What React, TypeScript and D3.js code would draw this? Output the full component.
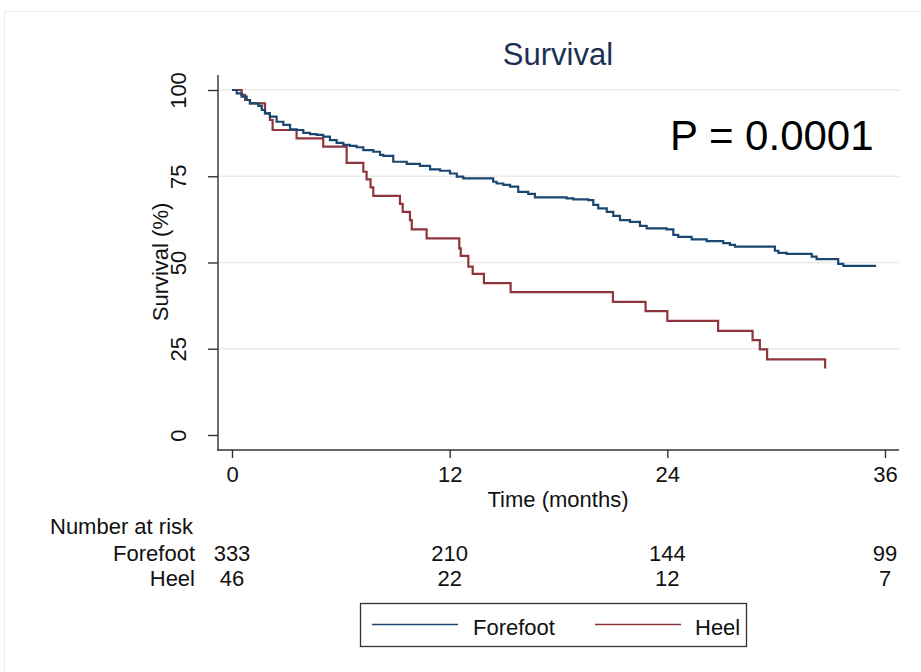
import React, { useEffect, useRef } from 'react'
import * as d3 from 'd3'

// Kaplan-Meier steps (months, survival %)
const forefootTime = [0, 0.26, 0.53, 0.81, 0.99, 1.45, 1.64, 1.82, 2.09, 2.46, 2.83, 3.2, 3.56, 3.93, 4.3, 4.67, 5.03, 5.4, 5.77, 6.14, 6.5, 6.87, 7.24, 7.79, 8.16, 8.34, 8.89, 9.63, 10.36, 10.92, 11.47, 12.02, 12.39, 12.75, 14.4, 14.59, 14.96, 15.33, 15.78, 16.33, 16.7, 18.45, 18.82, 19.64, 19.92, 20.19, 20.66, 21.02, 21.39, 21.94, 22.49, 22.86, 23.96, 24.33, 24.6, 25.34, 26.17, 27.08, 27.45, 27.73, 29.93, 30.12, 30.58, 31.96, 32.23, 33.42, 33.7, 35.45]
const forefootSurv = [100, 99.0, 98.1, 97.1, 96.1, 95.4, 94.2, 93.2, 92.3, 90.8, 89.9, 88.6, 88.4, 87.6, 87.2, 87.0, 86.5, 85.5, 84.7, 84.1, 83.8, 83.4, 82.6, 82.1, 81.2, 80.9, 79.2, 78.6, 78.0, 77.0, 76.6, 75.8, 74.9, 74.4, 73.4, 72.9, 72.5, 72.0, 70.5, 69.9, 68.9, 68.6, 68.3, 68.1, 66.7, 65.7, 64.7, 63.5, 62.3, 61.8, 60.6, 59.9, 59.6, 58.0, 57.4, 56.7, 56.2, 55.6, 55.1, 54.6, 53.4, 52.8, 52.5, 51.7, 51.0, 49.6, 49.0, 48.7]

const heelTime = [0, 0.53, 0.72, 0.99, 1.82, 2.09, 2.24, 3.56, 5.03, 6.32, 7.24, 7.42, 7.64, 7.79, 9.26, 9.41, 9.81, 9.91, 10.73, 12.53, 12.61, 13.03, 13.27, 13.89, 15.36, 21.0, 22.8, 24.0, 26.8, 28.7, 29.1, 29.5, 32.7]
const heelSurv = [100, 98.6, 97.1, 96.1, 93.2, 91.3, 88.4, 86.0, 83.6, 78.9, 76.3, 74.1, 71.8, 69.3, 67.0, 64.7, 62.3, 59.6, 57.0, 54.1, 51.9, 48.8, 46.7, 44.0, 41.4, 38.6, 35.9, 33.1, 30.2, 27.5, 24.8, 21.9, 19.3]

const xTicks = [0, 12, 24, 36]
const yTicks = [0, 25, 50, 75, 100]
const groups = ['Forefoot', 'Heel']
const forefootAtRisk = [333, 210, 144, 99]
const heelAtRisk = [46, 22, 12, 7]

const BLUE = '#1a476f'
const RED = '#90353b'
const FONT = '"Liberation Sans", Arial, Helvetica, sans-serif'

const App = () => {
    const Chart = useRef<SVGSVGElement>(null)
    const width = 921
    const height = 672

    useEffect(() => {
        const svg = d3.select(Chart.current)
        svg.selectAll('*').remove()
        svg.style('font-family', FONT)

        // faint graph region border
        svg.append('rect')
            .attr('x', 4.5).attr('y', 11.5)
            .attr('width', 940).attr('height', 700)
            .attr('fill', 'none').attr('stroke', '#ececec')

        const x = d3.scaleLinear().domain([0, 36]).range([232, 885])
        const y = d3.scaleLinear().domain([0, 100]).range([435, 90])

        // gridlines
        svg.append('g')
            .selectAll('line')
            .data(yTicks.filter(d => d > 0))
            .join('line')
            .attr('x1', 219).attr('x2', 899)
            .attr('y1', d => y(d)).attr('y2', d => y(d))
            .attr('stroke', '#eaeaea').attr('stroke-width', 1.5)

        // y axis
        const yAxis = svg.append('g')
            .attr('transform', 'translate(218,0)')
            .call(d3.axisLeft(y).tickValues(yTicks).tickSize(10).tickSizeOuter(0))
        yAxis.select('.domain').remove()
        yAxis.selectAll('line').attr('stroke', '#333').attr('stroke-width', 1.4)
        yAxis.selectAll('text')
            .attr('transform', 'rotate(-90)')
            .attr('x', 0).attr('y', -32).attr('dy', null)
            .attr('text-anchor', 'middle')
            .style('font-size', '22px').style('font-family', FONT).attr('fill', '#111')

        // x axis
        const xAxis = svg.append('g')
            .attr('transform', 'translate(0,450)')
            .call(d3.axisBottom(x).tickValues(xTicks).tickSize(8).tickSizeOuter(0))
        xAxis.select('.domain').remove()
        xAxis.selectAll('line').attr('stroke', '#333').attr('stroke-width', 1.4)
        xAxis.selectAll('text')
            .attr('y', 32).attr('dy', null)
            .style('font-size', '22px').style('font-family', FONT).attr('fill', '#111')

        svg.append('line').attr('x1', 218).attr('x2', 218).attr('y1', 75).attr('y2', 450.7)
            .attr('stroke', '#333').attr('stroke-width', 1.4)
        svg.append('line').attr('x1', 217.3).attr('x2', 899).attr('y1', 450).attr('y2', 450)
            .attr('stroke', '#333').attr('stroke-width', 1.4)

        // axis titles
        svg.append('text')
            .attr('transform', 'translate(168,262) rotate(-90)')
            .attr('text-anchor', 'middle')
            .style('font-size', '22px').attr('fill', '#111')
            .text('Survival (%)')
        svg.append('text')
            .attr('x', 558).attr('y', 507)
            .attr('text-anchor', 'middle')
            .style('font-size', '22px').attr('fill', '#111')
            .text('Time (months)')

        // title and p-value
        svg.append('text')
            .attr('x', 558).attr('y', 65)
            .attr('text-anchor', 'middle')
            .style('font-size', '31px').attr('fill', '#1e2f55')
            .text('Survival')
        svg.append('text')
            .attr('x', 670).attr('y', 150)
            .style('font-size', '42px').attr('fill', '#000')
            .text('P = 0.0001')

        // curves
        const line = d3.line<[number, number]>()
            .x(d => x(d[0]))
            .y(d => y(d[1]))
            .curve(d3.curveStepAfter)
        const series = [
            { pts: forefootTime.map((t, i) => [t, forefootSurv[i]] as [number, number]), color: BLUE },
            { pts: heelTime.map((t, i) => [t, heelSurv[i]] as [number, number]), color: RED },
        ]
        svg.append('g')
            .selectAll('path')
            .data(series.slice().reverse())
            .join('path')
            .attr('d', d => line(d.pts))
            .attr('fill', 'none')
            .attr('stroke', d => d.color)
            .attr('stroke-width', 2.2)

        // number at risk table
        svg.append('text')
            .attr('x', 50).attr('y', 534)
            .style('font-size', '22px').attr('fill', '#111')
            .text('Number at risk')
        const atRisk = [forefootAtRisk, heelAtRisk]
        groups.forEach((g, gi) => {
            const rowY = 561 + gi * 25
            svg.append('text')
                .attr('x', 195).attr('y', rowY)
                .attr('text-anchor', 'end')
                .style('font-size', '22px').attr('fill', '#111')
                .text(g)
            svg.append('g')
                .selectAll('text')
                .data(atRisk[gi])
                .join('text')
                .attr('x', (d, i) => x(xTicks[i]))
                .attr('y', rowY)
                .attr('text-anchor', 'middle')
                .style('font-size', '22px').attr('fill', '#111')
                .text(d => d)
        })

        // legend
        const legend = svg.append('g')
        legend.append('rect')
            .attr('x', 360.5).attr('y', 603.5)
            .attr('width', 386).attr('height', 43)
            .attr('fill', '#fff').attr('stroke', '#333').attr('stroke-width', 1.3)
        const items = [
            { name: groups[0], color: BLUE, x0: 372, tx: 473 },
            { name: groups[1], color: RED, x0: 595, tx: 695 },
        ]
        items.forEach(it => {
            legend.append('line')
                .attr('x1', it.x0).attr('x2', it.x0 + 86)
                .attr('y1', 624.5).attr('y2', 624.5)
                .attr('stroke', it.color).attr('stroke-width', 1.6)
            legend.append('text')
                .attr('x', it.tx).attr('y', 635)
                .style('font-size', '22px').attr('fill', '#111')
                .text(it.name)
        })
    })

    return (
        <div style={{ position: 'absolute', left: 0, top: 0 }}>
            <svg ref={Chart} width={width} height={height} style={{ display: 'block', background: '#fff' }}></svg>
        </div>
    )
}

export default App
